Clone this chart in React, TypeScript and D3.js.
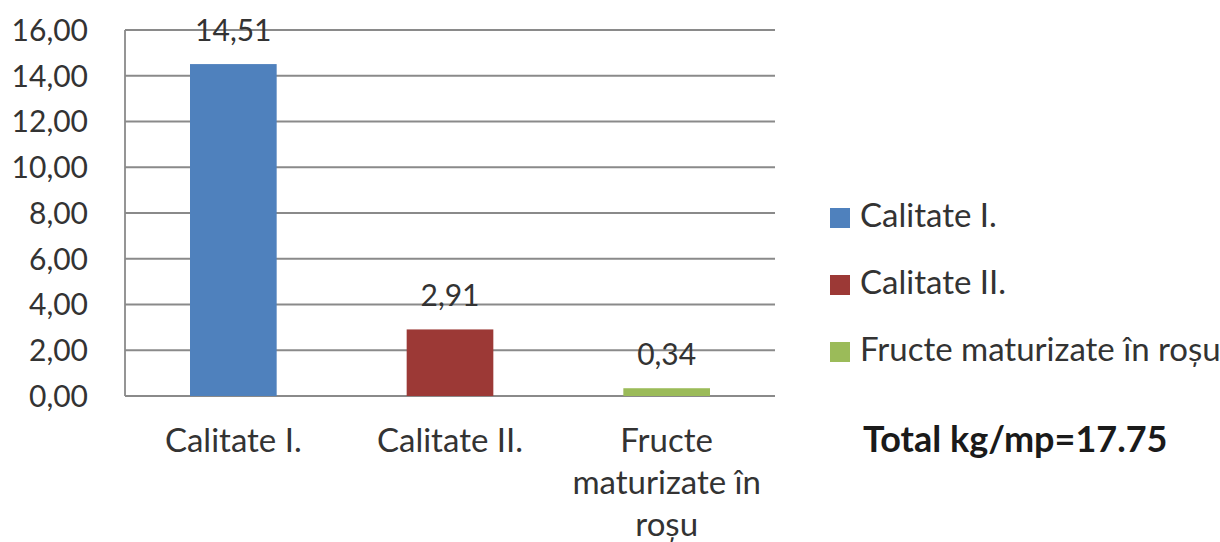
import { useEffect, useRef } from "react";
import * as d3 from "d3";

// chart data
const categories = ["Calitate I.", "Calitate II.", "Fructe maturizate în roșu"];
const categoryLines = [["Calitate I."], ["Calitate II."], ["Fructe", "maturizate în", "roșu"]];
const values = [14.51, 2.91, 0.34];
const colors = ["#4f81bd", "#9c3936", "#9bbb59"];
const yTicks = [0, 2, 4, 6, 8, 10, 12, 14, 16];
const totalLabel = "Total kg/mp=17.75";

const fmt = (v: number) => v.toFixed(2).replace(".", ",");

export default function App() {
  const svgRef = useRef<SVGSVGElement>(null);

  useEffect(() => {
    if (!svgRef.current) return;
    const width = 1220;
    const height = 542;
    const margin = { top: 30, left: 125, right: 445, bottom: 146 };
    const innerWidth = width - margin.left - margin.right;
    const innerHeight = height - margin.top - margin.bottom;
    const font = "Lato, 'Open Sans', sans-serif";
    const textColor = "#333";

    const svg = d3.select(svgRef.current);
    svg.selectAll("*").remove();
    svg.attr("width", width).attr("height", height);

    svg.append("rect").attr("width", width).attr("height", height).attr("fill", "#fff");

    const g = svg.append("g").attr("transform", `translate(${margin.left},${margin.top})`);

    const x = d3.scaleBand<string>().domain(categories).range([0, innerWidth]).paddingInner(0.6).paddingOuter(0.3);
    const y = d3.scaleLinear().domain([0, 16]).range([innerHeight, 0]);

    // gridlines
    g.append("g")
      .selectAll("line")
      .data(yTicks)
      .join("line")
      .attr("x1", 0)
      .attr("x2", innerWidth)
      .attr("y1", (d) => y(d))
      .attr("y2", (d) => y(d))
      .attr("stroke", "#8a8a8a")
      .attr("stroke-width", 1.8);

    // y axis line
    g.append("line")
      .attr("x1", 0)
      .attr("x2", 0)
      .attr("y1", 0)
      .attr("y2", innerHeight)
      .attr("stroke", "#8a8a8a")
      .attr("stroke-width", 1.8);

    // y tick labels
    g.append("g")
      .selectAll("text")
      .data(yTicks)
      .join("text")
      .attr("x", -37)
      .attr("y", (d) => y(d))
      .attr("dy", "0.36em")
      .attr("text-anchor", "end")
      .attr("font-family", font)
      .attr("font-size", 30)
      .attr("fill", textColor)
      .text((d) => fmt(d));

    // bars
    g.append("g")
      .selectAll("rect")
      .data(values)
      .join("rect")
      .attr("x", (_, i) => x(categories[i])!)
      .attr("width", x.bandwidth())
      .attr("y", (d) => y(d))
      .attr("height", (d) => innerHeight - y(d))
      .attr("fill", (_, i) => colors[i]);

    // value labels
    g.append("g")
      .selectAll("text")
      .data(values)
      .join("text")
      .attr("x", (_, i) => x(categories[i])! + x.bandwidth() / 2)
      .attr("y", (d) => y(d) - 23)
      .attr("text-anchor", "middle")
      .attr("font-family", font)
      .attr("font-size", 30)
      .attr("fill", textColor)
      .text((d) => fmt(d));

    // category labels
    categoryLines.forEach((lines, i) => {
      const t = g
        .append("text")
        .attr("x", x(categories[i])! + x.bandwidth() / 2)
        .attr("y", innerHeight + 56)
        .attr("text-anchor", "middle")
        .attr("font-family", font)
        .attr("font-size", 33)
        .attr("fill", textColor);
      lines.forEach((l, j) => {
        t.append("tspan")
          .attr("x", x(categories[i])! + x.bandwidth() / 2)
          .attr("dy", j === 0 ? 0 : 42)
          .text(l);
      });
    });

    // legend
    const legend = svg.append("g").attr("transform", "translate(830,208)");
    categories.forEach((c, i) => {
      const row = legend.append("g").attr("transform", `translate(0,${i * 67})`);
      row.append("rect").attr("width", 20).attr("height", 20).attr("fill", colors[i]);
      row
        .append("text")
        .attr("x", 30)
        .attr("y", 19)
        .attr("font-family", font)
        .attr("font-size", 33)
        .attr("fill", textColor)
        .text(c);
    });

    svg
      .append("text")
      .attr("x", 863)
      .attr("y", 452)
      .attr("font-family", font)
      .attr("font-size", 36)
      .attr("font-weight", "bold")
      .attr("fill", "#1a1a1a")
      .text(totalLabel);
  }, []);

  return <svg ref={svgRef} style={{ position: "absolute", left: 0, top: 0, display: "block" }}></svg>;
}
